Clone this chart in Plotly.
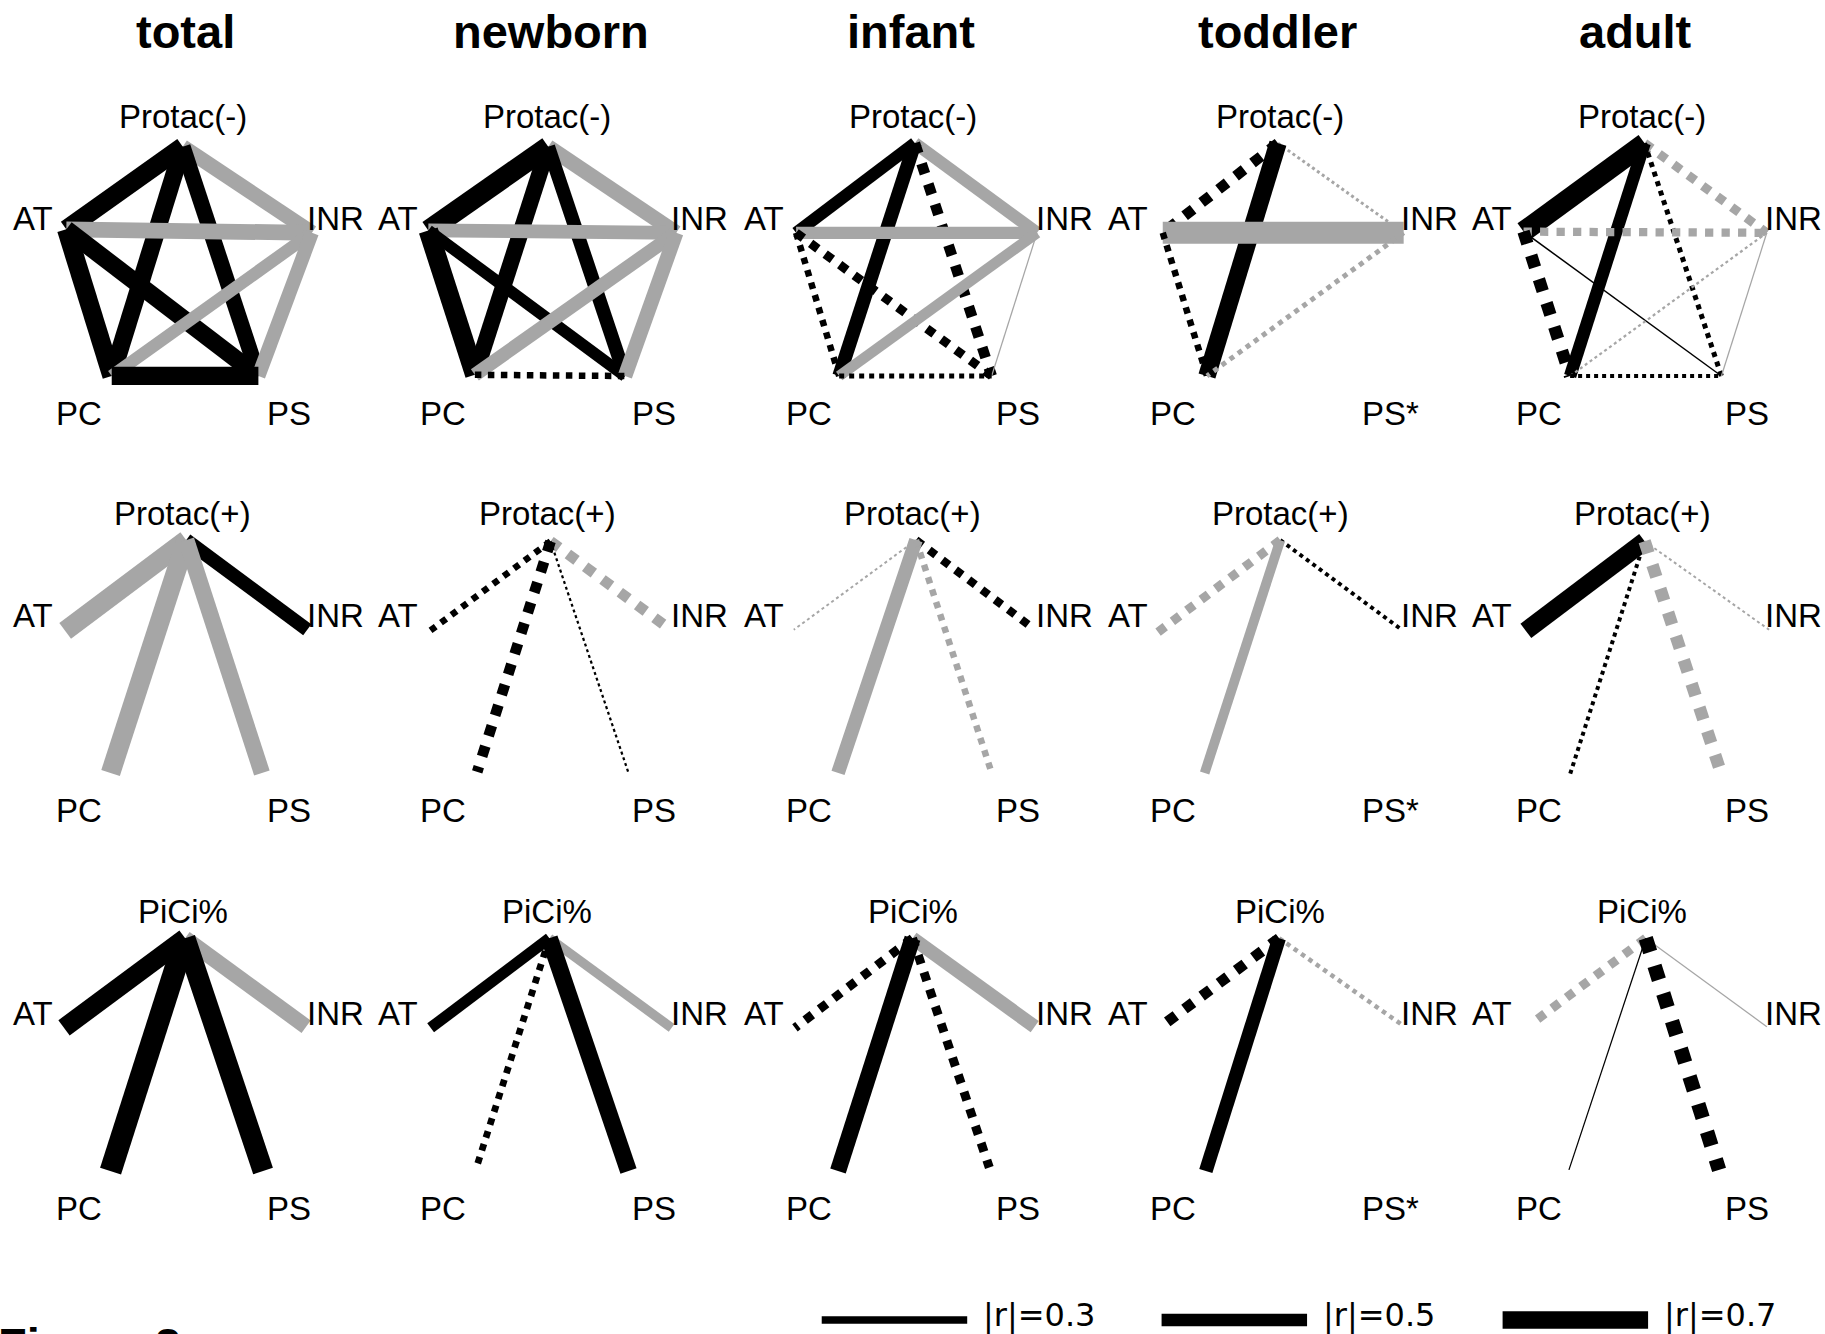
import plotly.graph_objects as go

# ---------------- DATA ----------------
groups = ["total", "newborn", "infant", "toddler", "adult"]
row_hubs = ["Protac(-)", "Protac(+)", "PiCi%"]
ps_labels = ["PS", "PS", "PS", "PS*", "PS"]

# edge order for the full Protac(-) networks
edges_full = [("hub", "AT"), ("hub", "INR"), ("hub", "PC"), ("hub", "PS"),
              ("AT", "INR"), ("AT", "PC"), ("AT", "PS"),
              ("INR", "PC"), ("INR", "PS"), ("PC", "PS")]
# edge order for the star networks (Protac(+), PiCi%)
edges_star = [("hub", "AT"), ("hub", "INR"), ("hub", "PC"), ("hub", "PS")]

# correlation coefficients r (None = edge not shown)
r_protac_minus = {
    "total":   [0.75, -0.60, 0.70, 0.63, -0.63, 0.75, 0.70, -0.50, -0.56, 0.73],
    "newborn": [0.82, -0.60, 0.65, 0.55, -0.55, 0.78, 0.47, -0.55, -0.58, 0.26],
    "infant":  [0.49, -0.49, 0.55, 0.43, -0.49, 0.26, 0.36, -0.43, -0.05, 0.20],
    "toddler": [0.43, -0.12, 0.70, None, -0.88, 0.26, None, -0.20, None, None],
    "adult":   [0.82, -0.36, 0.50, 0.20, -0.33, 0.50, 0.06, -0.09, -0.05, 0.16],
}
sig_protac_minus = {
    "total":   [1, 1, 1, 1, 1, 1, 1, 1, 1, 1],
    "newborn": [1, 1, 1, 1, 1, 1, 1, 1, 1, 0],
    "infant":  [1, 1, 1, 0, 1, 0, 0, 1, 1, 0],
    "toddler": [0, 0, 1, 0, 1, 0, 0, 0, 0, 0],
    "adult":   [1, 0, 1, 0, 0, 0, 1, 0, 1, 0],
}
r_protac_plus = {
    "total":   [-0.78, 0.55, -0.78, -0.65],
    "newborn": [0.26, -0.43, 0.43, 0.09],
    "infant":  [-0.08, 0.33, -0.55, -0.26],
    "toddler": [-0.36, 0.16, -0.39, None],
    "adult":   [0.72, -0.08, 0.16, -0.50],
}
sig_protac_plus = {
    "total":   [1, 1, 1, 1],
    "newborn": [0, 0, 0, 0],
    "infant":  [0, 0, 1, 0],
    "toddler": [0, 0, 1, 0],
    "adult":   [1, 0, 0, 0],
}
r_pici = {
    "total":   [0.76, -0.62, 0.88, 0.83],
    "newborn": [0.45, -0.38, 0.27, 0.68],
    "infant":  [0.36, -0.55, 0.65, 0.36],
    "toddler": [0.43, -0.18, 0.55, None],
    "adult":   [-0.36, -0.05, 0.05, 0.58],
}
sig_pici = {
    "total":   [1, 1, 1, 1],
    "newborn": [1, 1, 0, 1],
    "infant":  [0, 1, 1, 0],
    "toddler": [0, 0, 1, 0],
    "adult":   [0, 1, 1, 0],
}
legend_r = [0.3, 0.5, 0.7]

# ---------------- LAYOUT (node positions, reference-preview units) ----------------
# order: hub, AT, INR, PC, PS
node_pos = [
    {  # row 1: Protac(-)
        "total":   [(157, 126), (57, 197), (268, 200), (96, 323), (222, 323)],
        "newborn": [(471, 126), (368, 198), (581, 200), (408, 322), (537, 323)],
        "infant":  [(786, 123), (684, 200), (891, 200), (721, 323), (852, 323)],
        "toddler": [(1098, 123), (999, 200), (1206, 200), (1037, 323), (1170, 323)],
        "adult":   [(1413, 123), (1309, 199), (1518, 200), (1349, 323), (1479, 323)],
    },
    {  # row 2: Protac(+)
        "total":   [(160, 464), (56, 542), (264, 541), (95, 664), (225, 664)],
        "newborn": [(473, 465), (368, 543), (575, 540), (410, 663), (540, 664)],
        "infant":  [(787, 464), (682, 541), (888, 540), (720, 664), (852, 664)],
        "toddler": [(1100, 464), (995, 543), (1203, 540), (1035, 664), (1170, 664)],
        "adult":   [(1413, 465), (1311, 542), (1520, 541), (1349, 665), (1479, 665)],
    },
    {  # row 3: PiCi%
        "total":   [(159, 806), (55, 883), (263, 882), (95, 1006), (226, 1006)],
        "newborn": [(472, 806), (370, 883), (577, 883), (409, 1004), (540, 1006)],
        "infant":  [(784, 806), (683, 883), (889, 882), (720, 1006), (850, 1003)],
        "toddler": [(1099, 806), (996, 883), (1204, 880), (1036, 1006), (1170, 1006)],
        "adult":   [(1414, 806), (1315, 880), (1518, 882), (1348, 1005), (1477, 1005)],
    },
]
col_title_x = [159, 473, 783, 1098, 1405]
lab_hub_x = [157, 470, 784, 1100, 1411]
lab_at_x = [28, 342, 656, 969, 1282]
lab_inr_x = [288, 601, 915, 1228, 1541]
lab_pc_x = [68, 381, 695, 1008, 1322]
lab_ps_x = [248, 562, 875, 1195, 1501]
row_lab_y = [(100, 188, 355), (441, 529, 696), (783, 871, 1038)]

W, H = 1825, 1334
PW, PH = 1568, 1146
WIDTH_PER_R = 25.0
BLACK = "#000000"
GREY = "#A6A6A6"
LABEL_FONT = "Liberation Sans, Arial, sans-serif"

fig = go.Figure()

row_data = [
    (edges_full, r_protac_minus, sig_protac_minus),
    (edges_star, r_protac_plus, sig_protac_plus),
    (edges_star, r_pici, sig_pici),
]
node_index = {"hub": 0, "AT": 1, "INR": 2, "PC": 3, "PS": 4}

for ri, (edges, rvals, sigs) in enumerate(row_data):
    for g in groups:
        pos = node_pos[ri][g]
        for (a, b), r, s in zip(edges, rvals[g], sigs[g]):
            if r is None:
                continue
            xa, ya = pos[node_index[a]]
            xb, yb = pos[node_index[b]]
            fig.add_trace(go.Scatter(
                x=[xa, xb], y=[ya, yb], mode="lines",
                line=dict(color=BLACK if r > 0 else GREY,
                          width=max(abs(r) * WIDTH_PER_R, 0.7),
                          dash="solid" if s else "dot"),
                hoverinfo="skip", showlegend=False))

annotations = []
for ci, g in enumerate(groups):
    annotations.append(dict(x=col_title_x[ci], y=27, text="<b>%s</b>" % g,
                            font=dict(family=LABEL_FONT, size=47, color="black")))
    for ri in range(3):
        yt, ym, yb = row_lab_y[ri]
        for x, y, t in [(lab_hub_x[ci], yt, row_hubs[ri]), (lab_at_x[ci], ym, "AT"),
                        (lab_inr_x[ci], ym, "INR"), (lab_pc_x[ci], yb, "PC"),
                        (lab_ps_x[ci], yb, ps_labels[ci])]:
            annotations.append(dict(x=x, y=y, text=t,
                                    font=dict(family=LABEL_FONT, size=33, color="black")))
for a in annotations:
    a.update(xref="x", yref="y", showarrow=False, xanchor="center", yanchor="middle")

# legend
leg_x0 = [706, 998, 1291]
leg_len = 125
for x0, r in zip(leg_x0, legend_r):
    fig.add_trace(go.Scatter(x=[x0, x0 + leg_len], y=[1134, 1134], mode="lines",
                             line=dict(color=BLACK, width=r * WIDTH_PER_R),
                             hoverinfo="skip", showlegend=False))
    annotations.append(dict(x=x0 + leg_len + 12, y=1130, text="|r|=%.1f" % r,
                            xref="x", yref="y", showarrow=False,
                            xanchor="left", yanchor="middle",
                            font=dict(family="DejaVu Sans", size=32, color="black")))

annotations.append(dict(x=0, y=0.0, xref="paper", yref="paper",
                        text="<b>Figure 2</b>", showarrow=False,
                        xanchor="left", yanchor="top", xshift=-4, yshift=18,
                        font=dict(family=LABEL_FONT, size=47, color="black")))

fig.update_layout(
    width=W, height=H, margin=dict(l=0, r=0, t=0, b=0),
    paper_bgcolor="white", plot_bgcolor="white",
    xaxis=dict(range=[0, PW], visible=False, fixedrange=True),
    yaxis=dict(range=[PH, 0], visible=False, fixedrange=True),
    annotations=annotations, showlegend=False,
)
fig.write_html("out.html")
